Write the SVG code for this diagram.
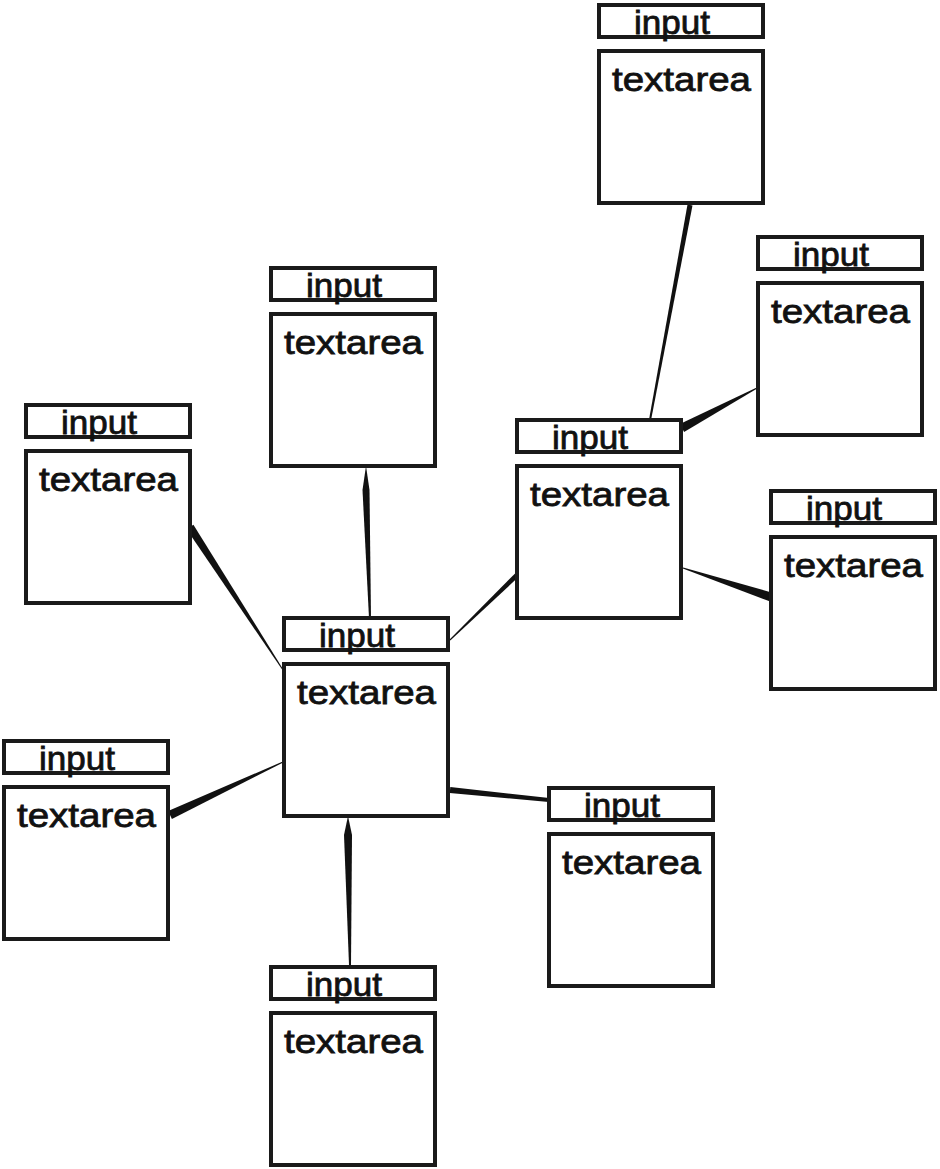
<svg xmlns="http://www.w3.org/2000/svg" width="940" height="1169" viewBox="0 0 940 1169">
<style>
.box{fill:#fff;stroke:#1a1a1a;stroke-width:4}
.lbl{font-family:"Liberation Sans",Arial,sans-serif;font-size:34px;fill:#111;stroke:#111;stroke-width:0.8}
.conn{fill:#111}
</style>
<defs>
<g id="node">
<rect class="box" x="0" y="0" width="164" height="32"/>
<rect class="box" x="0" y="46" width="164" height="152"/>
<text class="lbl" x="35" y="29" textLength="76" lengthAdjust="spacingAndGlyphs">input</text>
<text class="lbl" x="13" y="86" textLength="139" lengthAdjust="spacingAndGlyphs">textarea</text>
</g>
</defs>
<rect width="940" height="1169" fill="#fff"/>
<g id="connectors">
<polygon class="conn" points="692.5,205.4 651,420.2 649,419.8 687.5,204.6"/>
<polygon class="conn" points="757.2,388.4 684.1,432 679.9,424 756.8,387.6"/>
<polygon class="conn" points="682.8,568.5 769.6,601.3 772.4,592.7 683.2,567.5"/>
<polygon class="conn" points="518.7,576.8 450.3,640.4 449.6,639.6 515.3,573.2"/>
<polygon class="conn" points="366,466 369.5,490 371,618 369,618 362.5,490"/>
<polygon class="conn" points="193.4,524.8 283.4,669.7 282.6,670.3 186.6,529.2"/>
<polygon class="conn" points="171.9,819.1 283.2,762.5 282.8,761.5 168.1,810.9"/>
<polygon class="conn" points="449.7,793 548.8,802 549.2,798 450.3,787"/>
<polygon class="conn" points="348,816 352,835 351,965 349,965 344,835"/>
</g>
<g id="node1" transform="translate(599,5)"><use href="#node"/></g>
<g id="node2" transform="translate(758,237)"><use href="#node"/></g>
<g id="node3" transform="translate(271,268)"><use href="#node"/></g>
<g id="node4" transform="translate(26,405)"><use href="#node"/></g>
<g id="node5" transform="translate(517,420)"><use href="#node"/></g>
<g id="node6" transform="translate(771,491)"><use href="#node"/></g>
<g id="node7" transform="translate(284,618)"><use href="#node"/></g>
<g id="node8" transform="translate(4,741)"><use href="#node"/></g>
<g id="node9" transform="translate(549,788)"><use href="#node"/></g>
<g id="node10" transform="translate(271,967)"><use href="#node"/></g>
</svg>
